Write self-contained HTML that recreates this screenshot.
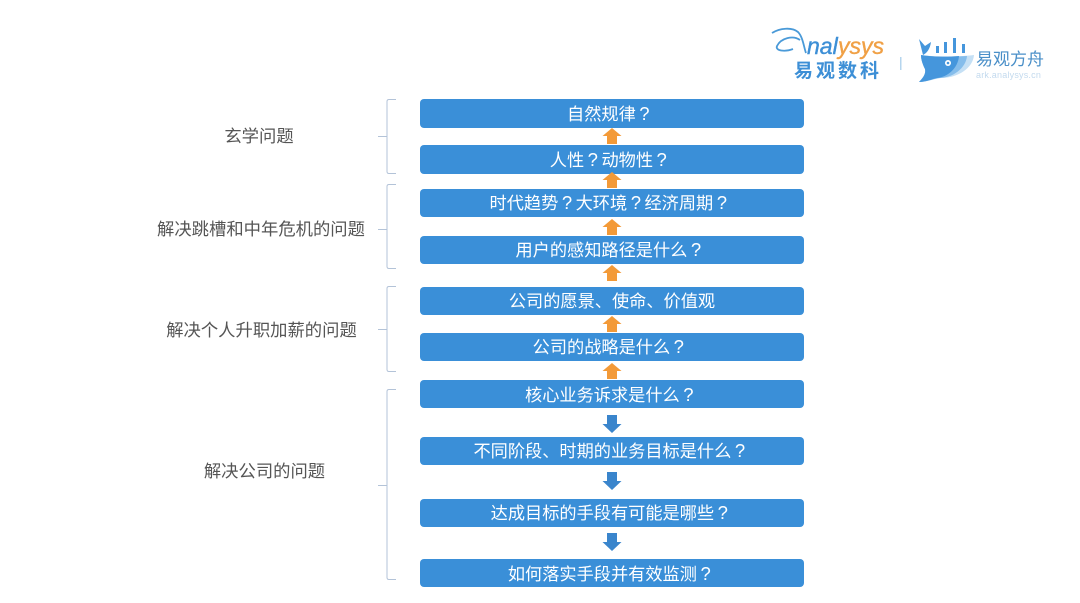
<!DOCTYPE html>
<html lang="zh">
<head>
<meta charset="utf-8">
<style>
html,body{margin:0;padding:0;background:#fff;width:1080px;height:603px;overflow:hidden}
svg{display:block}
text{font-family:"Liberation Sans","Noto Sans CJK SC",sans-serif}
.b{fill:#fff;font-size:17.2px;text-anchor:middle}
.q{font-size:18.5px}
.l{fill:#555;font-size:17.33px;text-anchor:middle}
.r{fill:#3a8fd8}
.br{fill:none;stroke:#b3c3d8;stroke-width:1}
</style>
</head>
<body>
<svg width="1080" height="603" viewBox="0 0 1080 603" xmlns="http://www.w3.org/2000/svg">
<defs>
<path id="up" d="M0 0L9.500 8H5V16H-5V8H-9.500Z" fill="#f39a38"/>
<path id="dn" d="M-5 0H5V9H9.500L0 18L-9.500 9H-5Z" fill="#3a85cc"/>
</defs>

<!-- brackets -->
<path class="br" d="M396 99.500H389Q387 99.500 387 101.500V171.500Q387 173.500 389 173.500H396M378 136.500H387"/>
<path class="br" d="M396 184.500H389Q387 184.500 387 186.500V266.500Q387 268.500 389 268.500H396M378 229.500H387"/>
<path class="br" d="M396 286.500H389Q387 286.500 387 288.500V369.500Q387 371.500 389 371.500H396M378 329.500H387"/>
<path class="br" d="M396 389.500H389Q387 389.500 387 391.500V577.500Q387 579.500 389 579.500H396M378 485.500H387"/>

<!-- left labels -->
<text class="l" x="259" y="142">玄学问题</text>
<text class="l" x="261" y="235">解决跳槽和中年危机的问题</text>
<text class="l" x="261.500" y="336">解决个人升职加薪的问题</text>
<text class="l" x="264.500" y="477">解决公司的问题</text>

<!-- boxes -->
<rect class="r" x="420" y="99" width="384" height="29" rx="4"/>
<rect class="r" x="420" y="145" width="384" height="29" rx="4"/>
<rect class="r" x="420" y="189" width="384" height="28" rx="4"/>
<rect class="r" x="420" y="236" width="384" height="28" rx="4"/>
<rect class="r" x="420" y="287" width="384" height="28" rx="4"/>
<rect class="r" x="420" y="333" width="384" height="28" rx="4"/>
<rect class="r" x="420" y="380" width="384" height="28" rx="4"/>
<rect class="r" x="420" y="437" width="384" height="28" rx="4"/>
<rect class="r" x="420" y="499" width="384" height="28" rx="4"/>
<rect class="r" x="420" y="559" width="384" height="28" rx="4"/>

<!-- box labels -->
<text class="b" x="608.300" y="120">自然规律<tspan class="q" dx="3.500">?</tspan></text>
<text class="b" x="608.300" y="166">人性<tspan class="q" dx="3.500">?</tspan><tspan dx="3.500">动物性</tspan><tspan class="q" dx="3.500">?</tspan></text>
<text class="b" x="608.300" y="209">时代趋势<tspan class="q" dx="3.500">?</tspan><tspan dx="3.500">大环境</tspan><tspan class="q" dx="3.500">?</tspan><tspan dx="3.500">经济周期</tspan><tspan class="q" dx="3.500">?</tspan></text>
<text class="b" x="608.300" y="256">用户的感知路径是什么<tspan class="q" dx="3.500">?</tspan></text>
<text class="b" x="612" y="307">公司的愿景、使命、价值观</text>
<text class="b" x="608.300" y="353">公司的战略是什么<tspan class="q" dx="3.500">?</tspan></text>
<text class="b" x="609.300" y="401">核心业务诉求是什么<tspan class="q" dx="3.500">?</tspan></text>
<text class="b" x="609.300" y="457">不同阶段、时期的业务目标是什么<tspan class="q" dx="3.500">?</tspan></text>
<text class="b" x="609.300" y="519">达成目标的手段有可能是哪些<tspan class="q" dx="3.500">?</tspan></text>
<text class="b" x="609.300" y="580">如何落实手段并有效监测<tspan class="q" dx="3.500">?</tspan></text>

<!-- arrows -->
<use href="#up" x="612" y="128"/>
<use href="#up" x="612" y="172"/>
<use href="#up" x="612" y="219"/>
<use href="#up" x="612" y="265"/>
<use href="#up" x="612" y="316"/>
<use href="#up" x="612" y="363"/>
<use href="#dn" x="612" y="415"/>
<use href="#dn" x="612" y="472"/>
<use href="#dn" x="612" y="533"/>

<!-- logo: Analysys -->
<path d="M772 33C780 28 792 27 798 32C803 37 804 48 806 53" fill="none" stroke="#4a9ad8" stroke-width="1.800"/>
<path d="M800 40C793 35 781 38 777 46C775 51 785 52 793 49" fill="none" stroke="#4a9ad8" stroke-width="1.800"/>
<text x="807" y="54" font-size="23" font-style="italic" fill="#3d8fd6" stroke="#3d8fd6" stroke-width=".4">nal</text>
<text x="838" y="54" font-size="23" font-style="italic" fill="#f0a045" stroke="#f0a045" stroke-width=".4">ysys</text>
<text x="794" y="77" font-size="19" font-weight="700" fill="#3d8fd6" style="letter-spacing:3px">易观数科</text>
<rect x="900" y="57" width="1.500" height="13" fill="#b5d5ee"/>

<!-- logo: whale -->
<path d="M919 39L925 46L931 42C930 49 927 53 923 55Z" fill="#4596dc"/>
<rect x="936" y="46" width="3" height="7" fill="#4596dc"/>
<rect x="944" y="42" width="3" height="11" fill="#4596dc"/>
<rect x="953" y="38" width="3" height="15" fill="#4596dc"/>
<rect x="962" y="44" width="3" height="9" fill="#4596dc"/>
<path d="M921 55C935 57 958 57 974 55C973 68 958 78 941 78C934 79 926 82 919 82C924 77 926 73 925 69C923 65 921 60 921 55Z" fill="#c5e0f5"/>
<path d="M921 55C932 57 952 57 967 56C966 68 953 78 939 78C933 79 926 82 919 82C924 77 926 73 925 69C923 65 921 60 921 55Z" fill="#85bdeb"/>
<path d="M921 55C932 57 948 57 959 56C958 68 948 77 937 78C932 79 926 82 919 82C924 77 926 73 925 69C923 65 921 60 921 55Z" fill="#4596dc"/>
<circle cx="948" cy="63" r="3" fill="#fff"/>
<circle cx="948" cy="63" r="1.300" fill="#4596dc"/>
<text x="976" y="65" font-size="17" fill="#4a8fc8">易观方舟</text>
<text x="976" y="78" font-size="9" fill="#c3daee" style="letter-spacing:.2px">ark.analysys.cn</text>
</svg>
</body>
</html>
